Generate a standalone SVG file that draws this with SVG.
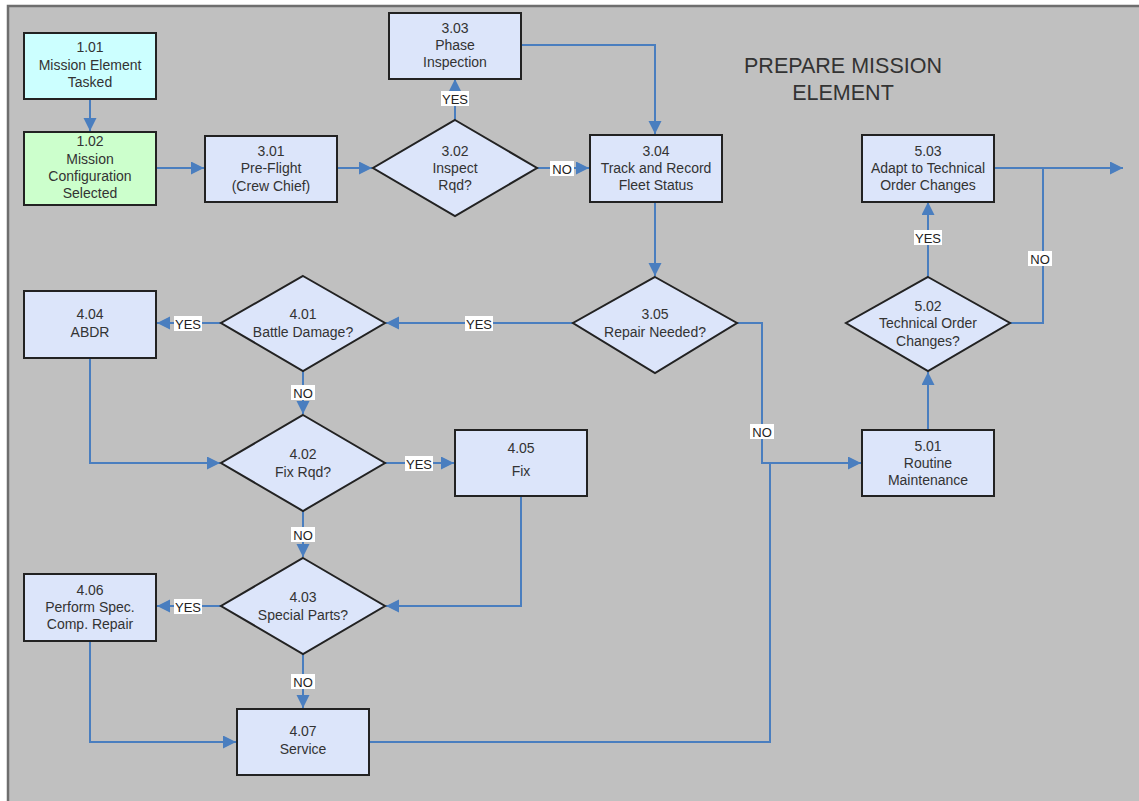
<svg xmlns="http://www.w3.org/2000/svg" width="1139" height="801" viewBox="0 0 1139 801">
<defs>
<style>
.box{fill:#dce5fa;stroke:#222;stroke-width:2}
.dia{fill:#dce5fa;stroke:#222;stroke-width:2;stroke-linejoin:miter}
.t{font-family:"Liberation Sans",Arial,sans-serif;font-size:14px;fill:#333;text-anchor:middle}
.title{font-family:"Liberation Sans",Arial,sans-serif;font-size:21.5px;fill:#333;text-anchor:middle}
.c{fill:none;stroke:#4a7ebf;stroke-width:2}
.lb{fill:#fff}
.lt{font-family:"Liberation Sans",Arial,sans-serif;font-size:13px;fill:#222;text-anchor:middle}
</style>
<marker id="ah" markerUnits="userSpaceOnUse" markerWidth="14" markerHeight="14" refX="13" refY="6.5" orient="auto">
<path d="M0,0 L13,6.5 L0,13 z" fill="#4a7ebf"/>
</marker>
</defs>
<rect x="0" y="0" width="1139" height="801" fill="#fff"/>
<rect x="8" y="6" width="1135" height="800" fill="#c0c0c0" stroke="#6e6e6e" stroke-width="2.5"/>
<text class="title" x="843" y="73">PREPARE MISSION</text>
<text class="title" x="843" y="100">ELEMENT</text>

<g id="connectors">
<path class="c" d="M90,99 V131" marker-end="url(#ah)"/>
<path class="c" d="M156,168 H204" marker-end="url(#ah)"/>
<path class="c" d="M337,168 H372" marker-end="url(#ah)"/>
<path class="c" d="M455,120 V79" marker-end="url(#ah)"/>
<path class="c" d="M537,168 H589" marker-end="url(#ah)"/>
<path class="c" d="M521,45 H655 V134" marker-end="url(#ah)"/>
<path class="c" d="M655,202 V276" marker-end="url(#ah)"/>
<path class="c" d="M573,323 H386" marker-end="url(#ah)"/>
<path class="c" d="M221,323 H157" marker-end="url(#ah)"/>
<path class="c" d="M303,371 V414" marker-end="url(#ah)"/>
<path class="c" d="M90,358 V463 H220" marker-end="url(#ah)"/>
<path class="c" d="M385,463 H454" marker-end="url(#ah)"/>
<path class="c" d="M303,511 V557" marker-end="url(#ah)"/>
<path class="c" d="M521,496 V606 H386" marker-end="url(#ah)"/>
<path class="c" d="M221,606 H157" marker-end="url(#ah)"/>
<path class="c" d="M303,654 V708" marker-end="url(#ah)"/>
<path class="c" d="M90,641 V742 H236" marker-end="url(#ah)"/>
<path class="c" d="M737,323 H762 V463 H861" marker-end="url(#ah)"/>
<path class="c" d="M369,742 H770 V463"/>
<path class="c" d="M928,430 V372" marker-end="url(#ah)"/>
<path class="c" d="M928,277 V202" marker-end="url(#ah)"/>
<path class="c" d="M1010,323 H1043 V168"/>
<path class="c" d="M994,168 H1123" marker-end="url(#ah)"/>
<g id="labels">
<rect class="lb" x="441" y="91" width="28" height="15"/><text class="lt" x="455" y="103.5">YES</text>
<rect class="lb" x="550" y="161" width="24" height="15"/><text class="lt" x="562" y="173.5">NO</text>
<rect class="lb" x="465" y="316" width="28" height="15"/><text class="lt" x="479" y="328.5">YES</text>
<rect class="lb" x="174" y="316" width="28" height="15"/><text class="lt" x="188" y="328.5">YES</text>
<rect class="lb" x="291" y="385" width="24" height="15"/><text class="lt" x="303" y="397.5">NO</text>
<rect class="lb" x="405" y="456" width="28" height="15"/><text class="lt" x="419" y="468.5">YES</text>
<rect class="lb" x="291" y="527" width="24" height="15"/><text class="lt" x="303" y="539.5">NO</text>
<rect class="lb" x="174" y="599" width="28" height="15"/><text class="lt" x="188" y="611.5">YES</text>
<rect class="lb" x="291" y="674" width="24" height="15"/><text class="lt" x="303" y="686.5">NO</text>
<rect class="lb" x="750" y="424" width="24" height="15"/><text class="lt" x="762" y="436.5">NO</text>
<rect class="lb" x="914" y="230" width="28" height="15"/><text class="lt" x="928" y="242.5">YES</text>
<rect class="lb" x="1028" y="251" width="24" height="15"/><text class="lt" x="1040" y="263.5">NO</text>
</g>
</g>

<g id="n101"><rect class="box" x="24" y="33" width="132" height="66" style="fill:#ccffff"/>
<text class="t" x="90" y="52">1.01</text><text class="t" x="90" y="70">Mission Element</text><text class="t" x="90" y="87">Tasked</text></g>
<g id="n102"><rect class="box" x="24" y="132" width="132" height="73" style="fill:#ccffcc"/>
<text class="t" x="90" y="146">1.02</text><text class="t" x="90" y="164">Mission</text><text class="t" x="90" y="181">Configuration</text><text class="t" x="90" y="198">Selected</text></g>
<g id="n301"><rect class="box" x="205" y="136" width="132" height="66"/>
<text class="t" x="271" y="156">3.01</text><text class="t" x="271" y="173">Pre-Flight</text><text class="t" x="271" y="191">(Crew Chief)</text></g>
<g id="n302"><polygon class="dia" points="455,120 537,168 455,216 373,168"/>
<text class="t" x="455" y="156">3.02</text><text class="t" x="455" y="173">Inspect</text><text class="t" x="455" y="190">Rqd?</text></g>
<g id="n303"><rect class="box" x="389" y="13" width="132" height="66"/>
<text class="t" x="455" y="33">3.03</text><text class="t" x="455" y="50">Phase</text><text class="t" x="455" y="67">Inspection</text></g>
<g id="n304"><rect class="box" x="590" y="135" width="132" height="67"/>
<text class="t" x="656" y="156">3.04</text><text class="t" x="656" y="173">Track and Record</text><text class="t" x="656" y="190">Fleet Status</text></g>
<g id="n305"><polygon class="dia" points="655,277 737,323 655,373 573,323"/>
<text class="t" x="655" y="319">3.05</text><text class="t" x="655" y="337">Repair Needed?</text></g>
<g id="n401"><polygon class="dia" points="303,276 385,323 303,371 221,323"/>
<text class="t" x="303" y="319">4.01</text><text class="t" x="303" y="337">Battle Damage?</text></g>
<g id="n404"><rect class="box" x="24" y="291" width="132" height="67"/>
<text class="t" x="90" y="319">4.04</text><text class="t" x="90" y="337">ABDR</text></g>
<g id="n402"><polygon class="dia" points="303,415 385,463 303,511 221,463"/>
<text class="t" x="303" y="459">4.02</text><text class="t" x="303" y="477">Fix Rqd?</text></g>
<g id="n405"><rect class="box" x="455" y="430" width="132" height="66"/>
<text class="t" x="521" y="453">4.05</text><text class="t" x="521" y="476">Fix</text></g>
<g id="n403"><polygon class="dia" points="303,558 385,606 303,654 221,606"/>
<text class="t" x="303" y="602">4.03</text><text class="t" x="303" y="620">Special Parts?</text></g>
<g id="n406"><rect class="box" x="24" y="574" width="132" height="67"/>
<text class="t" x="90" y="595">4.06</text><text class="t" x="90" y="612">Perform Spec.</text><text class="t" x="90" y="629">Comp. Repair</text></g>
<g id="n407"><rect class="box" x="237" y="709" width="132" height="66"/>
<text class="t" x="303" y="736">4.07</text><text class="t" x="303" y="754">Service</text></g>
<g id="n501"><rect class="box" x="862" y="430" width="132" height="66"/>
<text class="t" x="928" y="451">5.01</text><text class="t" x="928" y="468">Routine</text><text class="t" x="928" y="485">Maintenance</text></g>
<g id="n502"><polygon class="dia" points="928,277 1010,323 928,371 846,323"/>
<text class="t" x="928" y="311">5.02</text><text class="t" x="928" y="328">Technical Order</text><text class="t" x="928" y="346">Changes?</text></g>
<g id="n503"><rect class="box" x="862" y="135" width="132" height="67"/>
<text class="t" x="928" y="156">5.03</text><text class="t" x="928" y="173">Adapt to Technical</text><text class="t" x="928" y="190">Order Changes</text></g>
</svg>
